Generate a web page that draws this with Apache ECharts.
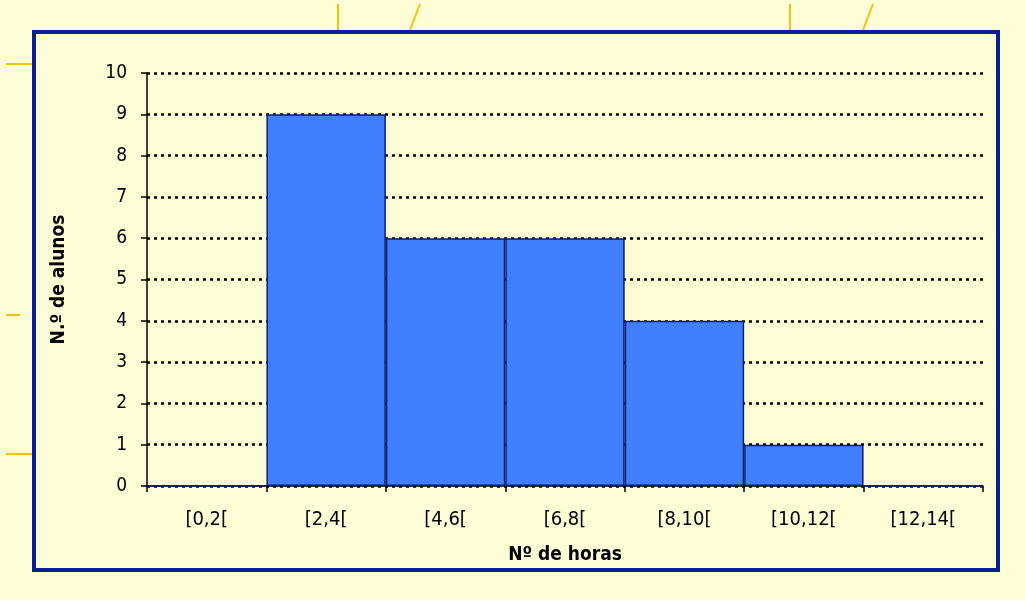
<!DOCTYPE html>
<html><head><meta charset="utf-8">
<script src="https://cdn.jsdelivr.net/npm/echarts@6/dist/echarts.min.js"></script>
<style>html,body{margin:0;padding:0;background:#FFFDD6;}#c{width:1025px;height:600px;}</style>
</head><body><div id="c"></div>
<script>
const categories = ['[0,2[', '[2,4[', '[4,6[', '[6,8[', '[8,10[', '[10,12[', '[12,14['];
const values = [0, 9, 6, 6, 4, 1, 0];
const yTicks = [0, 1, 2, 3, 4, 5, 6, 7, 8, 9, 10];

const chart = echarts.init(document.getElementById('c'));
chart.setOption({
  backgroundColor: '#FFFDD6',
  animation: false,
  grid: { left: 147, right: 42, top: 73, bottom: 114, containLabel: false },
  graphic: [
    { type: 'rect', shape: { x: 34, y: 32, width: 964, height: 538 }, style: { fill: 'none', stroke: '#0A1E96', lineWidth: 4 }, z: 0 },
    { type: 'line', shape: { x1: 338, y1: 4, x2: 338, y2: 30 }, style: { stroke: '#F5C400', lineWidth: 2 } },
    { type: 'line', shape: { x1: 420, y1: 4, x2: 410, y2: 30 }, style: { stroke: '#F5C400', lineWidth: 2 } },
    { type: 'line', shape: { x1: 790, y1: 4, x2: 790, y2: 30 }, style: { stroke: '#F5C400', lineWidth: 2 } },
    { type: 'line', shape: { x1: 873, y1: 4, x2: 863, y2: 30 }, style: { stroke: '#F5C400', lineWidth: 2 } },
    { type: 'line', shape: { x1: 6, y1: 64, x2: 32, y2: 64 }, style: { stroke: '#F5C400', lineWidth: 2 } },
    { type: 'line', shape: { x1: 6, y1: 315, x2: 20, y2: 315 }, style: { stroke: '#F5C400', lineWidth: 2 } },
    { type: 'line', shape: { x1: 6, y1: 454, x2: 32, y2: 454 }, style: { stroke: '#F5C400', lineWidth: 2 } }
  ],
  xAxis: {
    type: 'category',
    data: categories,
    name: 'Nº de horas',
    nameLocation: 'middle',
    nameGap: 60,
    nameTextStyle: { fontFamily: 'DejaVu Sans Condensed', fontWeight: 'bold', fontSize: 19, color: '#000' },
    axisLine: { lineStyle: { color: '#000', width: 1.5 } },
    axisTick: { show: true, length: 6, lineStyle: { color: '#000', width: 1.5 } },
    axisLabel: { color: '#000', fontFamily: 'DejaVu Sans Condensed', fontSize: 20, margin: 24 },
    splitLine: { show: false }
  },
  yAxis: {
    type: 'value',
    min: 0, max: 10, interval: 1,
    name: 'N.º de alunos',
    nameLocation: 'middle',
    nameGap: 78,
    nameRotate: 90,
    nameTextStyle: { fontFamily: 'DejaVu Sans Condensed', fontWeight: 'bold', fontSize: 19, color: '#000' },
    axisLine: { show: true, lineStyle: { color: '#000', width: 1.5 } },
    axisTick: { show: true, length: 6, lineStyle: { color: '#000', width: 1.5 } },
    axisLabel: { color: '#000', fontFamily: 'DejaVu Sans Condensed', fontSize: 19, margin: 20,
      formatter: v => yTicks.includes(v) ? String(v) : '' },
    splitLine: { show: true, lineStyle: { color: '#000', type: [3, 4], width: 2.5 } }
  },
  series: [{
    type: 'bar',
    data: values,
    barCategoryGap: '0%',
    itemStyle: { color: '#4080FF', borderColor: '#0A1E70', borderWidth: 1.5 },
    z: 3
  }]
});
</script></body></html>
